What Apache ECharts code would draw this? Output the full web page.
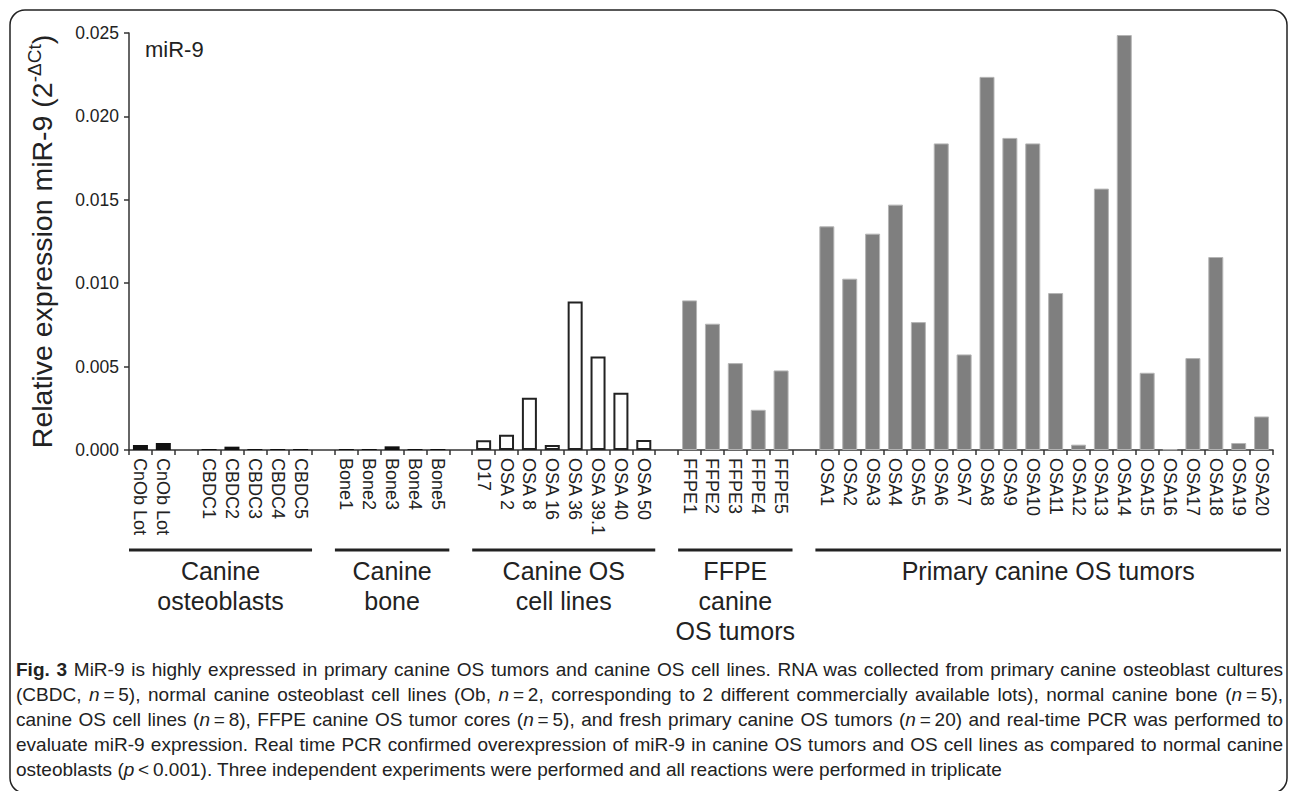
<!DOCTYPE html>
<html>
<head>
<meta charset="utf-8">
<script src="https://cdn.jsdelivr.net/npm/echarts@6/dist/echarts.min.js"></script>
<style>
  html, body { margin: 0; padding: 0; background: #fff; }
  #chart { position: absolute; left: 0; top: 0; width: 1290px; height: 791px; }
  #caption { position: absolute; left: 16px; top: 657px; width: 1267px;
    font-family: 'Liberation Sans', Arial, sans-serif; font-size: 19px; color: #222; }
  #caption div { line-height: 25px; height: 25px; white-space: nowrap; text-align: justify; text-align-last: justify; }
  #caption div.last { text-align-last: left; }
  #caption span.probe { display: inline-block; }
</style>
</head>
<body>
<div id="chart"></div>
<div id="caption">
  <div><b>Fig. 3</b> MiR-9 is highly expressed in primary canine OS tumors and canine OS cell lines. RNA was collected from primary canine osteoblast cultures</div>
  <div>(CBDC, <i>n</i>&#8201;=&#8201;5), normal canine osteoblast cell lines (Ob, <i>n</i>&#8201;=&#8201;2, corresponding to 2 different commercially available lots), normal canine bone (<i>n</i>&#8201;=&#8201;5),</div>
  <div>canine OS cell lines (<i>n</i>&#8201;=&#8201;8), FFPE canine OS tumor cores (<i>n</i>&#8201;=&#8201;5), and fresh primary canine OS tumors (<i>n</i>&#8201;=&#8201;20) and real-time PCR was performed to</div>
  <div>evaluate miR-9 expression. Real time PCR confirmed overexpression of miR-9 in canine OS tumors and OS cell lines as compared to normal canine</div>
  <div class="last">osteoblasts (<i>p</i>&#8201;&lt;&#8201;0.001). Three independent experiments were performed and all reactions were performed in triplicate</div>
</div>
<script>
// ---- data ----
const categories = [
  'CnOb Lot', 'CnOb Lot', ' ',
  'CBDC1', 'CBDC2', 'CBDC3', 'CBDC4', 'CBDC5', '  ',
  'Bone1', 'Bone2', 'Bone3', 'Bone4', 'Bone5', '   ',
  'D17', 'OSA 2', 'OSA 8', 'OSA 16', 'OSA 36', 'OSA 39.1', 'OSA 40', 'OSA 50', '    ',
  'FFPE1', 'FFPE2', 'FFPE3', 'FFPE4', 'FFPE5', '     ',
  'OSA1', 'OSA2', 'OSA3', 'OSA4', 'OSA5', 'OSA6', 'OSA7', 'OSA8', 'OSA9', 'OSA10',
  'OSA11', 'OSA12', 'OSA13', 'OSA14', 'OSA15', 'OSA16', 'OSA17', 'OSA18', 'OSA19', 'OSA20'
];
const values = [
  0.0003, 0.00042, null,
  0.00006, 0.0002, 0.00006, 0.00006, 0.00006, null,
  0.00006, 0.00006, 0.00022, 0.00006, 0.00006, null,
  0.00058, 0.00092, 0.00313, 0.0003, 0.00891, 0.00561, 0.00343, 0.0006, null,
  0.00897, 0.00757, 0.00521, 0.00241, 0.00477, null,
  0.01341, 0.01027, 0.01297, 0.01471, 0.00767, 0.01838, 0.00573, 0.02237, 0.01871, 0.01838,
  0.00941, 0.00032, 0.01567, 0.02488, 0.00463, 0.00004, 0.00551, 0.01157, 0.00042, 0.00201
];
// bar style per category: k = black (normal), o = open (cell lines), g = grey (tumors)
const styleKeys = [
  'k', 'k', '',
  'k', 'k', 'k', 'k', 'k', '',
  'k', 'k', 'k', 'k', 'k', '',
  'o', 'o', 'o', 'o', 'o', 'o', 'o', 'o', '',
  'g', 'g', 'g', 'g', 'g', '',
  'g', 'g', 'g', 'g', 'g', 'g', 'g', 'g', 'g', 'g',
  'g', 'g', 'g', 'g', 'g', 'g', 'g', 'g', 'g', 'g'
];
const groupNames = ['Canine\nosteoblasts', 'Canine\nbone', 'Canine OS\ncell lines', 'FFPE\ncanine\nOS tumors', 'Primary canine OS tumors'];
const groupFirst = [0, 9, 15, 24, 30];
const groupLast = [7, 13, 22, 28, 49];
const yTicks = [0, 0.005, 0.010, 0.015, 0.020, 0.025];

const styles = {
  k: { color: '#111', borderColor: '#111', borderWidth: 0 },
  o: { color: '#fff', borderColor: '#222', borderWidth: 2 },
  g: { color: '#7f7f7f', borderColor: '#b5b5b5', borderWidth: 1 }
};

const font = "'Liberation Sans', Arial, sans-serif";
const chart = echarts.init(document.getElementById('chart'), null, { renderer: 'svg' });

const seriesData = values.map((v, i) => ({
  value: v,
  itemStyle: styles[styleKeys[i]] || {}
}));

chart.setOption({
  animation: false,
  grid: { left: 129, right: 17, top: 33, bottom: 341 },
  xAxis: {
    type: 'category',
    data: categories,
    axisLine: { lineStyle: { color: '#333', width: 1.5 } },
    axisTick: { show: true, interval: 0, length: 5, lineStyle: { color: '#333', width: 1.5 } },
    axisLabel: { interval: 0, rotate: -90, fontSize: 18, color: '#222', margin: 8, fontFamily: font }
  },
  yAxis: {
    type: 'value',
    min: yTicks[0], max: yTicks[yTicks.length - 1], interval: 0.005,
    splitLine: { show: false },
    axisLine: { show: true, lineStyle: { color: '#333', width: 1.5 } },
    axisTick: { show: true, length: 5, lineStyle: { color: '#333', width: 1.5 } },
    axisLabel: { fontSize: 17.5, color: '#222', margin: 10, fontFamily: font, formatter: v => v.toFixed(3) },
    name: '{a|Relative expression miR-9 (2}{b|-ΔCt}{a|)}',
    nameLocation: 'middle',
    nameRotate: 90,
    nameGap: 70,
    nameTextStyle: {
      rich: {
        a: { fontSize: 28.5, color: '#222', fontFamily: font, lineHeight: 34 },
        b: { fontSize: 19, color: '#222', fontFamily: font, verticalAlign: 'top', lineHeight: 34, padding: [0, 0, 10, 0] }
      }
    }
  },
  series: [{
    type: 'bar',
    data: seriesData,
    barWidth: 15
  }]
});

// figure annotations: frame, panel label, group brackets and labels
const rect = chart.getModel().getComponent('grid').coordinateSystem.getRect();
const slot = rect.width / categories.length;
const graphics = [];
graphics.push({
  type: 'rect',
  shape: { x: 10, y: 10, width: 1277, height: 783, r: 15 },
  style: { stroke: '#222', lineWidth: 1.5, fill: null }
});
graphics.push({
  type: 'text', x: 145, y: 38,
  style: { text: 'miR-9', fontSize: 22, fill: '#222', fontFamily: font, verticalAlign: 'top' }
});
for (let g = 0; g < groupNames.length; g++) {
  const x1 = chart.convertToPixel({ xAxisIndex: 0 }, groupFirst[g]) - slot / 2;
  let x2 = chart.convertToPixel({ xAxisIndex: 0 }, groupLast[g]) + slot / 2;
  if (g === groupNames.length - 1) x2 += 8;
  graphics.push({
    type: 'line', shape: { x1: x1, y1: 550, x2: x2, y2: 550 },
    style: { stroke: '#222', lineWidth: 3 }
  });
  graphics.push({
    type: 'text', x: (x1 + x2) / 2, y: 556,
    style: { text: groupNames[g], fontSize: 25, lineHeight: 30, fill: '#222', fontFamily: font, align: 'center', verticalAlign: 'top' }
  });
}
chart.setOption({ graphic: graphics });

// fit caption so its widest line fits the justified width
(function () {
  const cap = document.getElementById('caption');
  const lines = Array.from(cap.children);
  let maxW = 0;
  lines.forEach(d => {
    const s = document.createElement('span');
    s.innerHTML = d.innerHTML;
    s.style.whiteSpace = 'nowrap';
    s.style.visibility = 'hidden';
    s.style.position = 'absolute';
    cap.appendChild(s);
    maxW = Math.max(maxW, s.getBoundingClientRect().width);
    cap.removeChild(s);
  });
  const base = 19;
  if (maxW > 1262) cap.style.fontSize = (base * 1262 / maxW).toFixed(2) + 'px';
})();
</script>
</body>
</html>
